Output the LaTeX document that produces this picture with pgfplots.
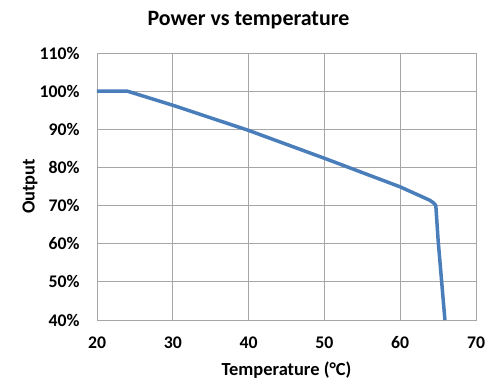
\documentclass[border=0pt]{standalone}
\usepackage{fontspec}
\setmainfont{Carlito}
\usepackage{pgfplots}
\pgfplotsset{compat=1.18}
\definecolor{linecol}{HTML}{4A7EBB}
\definecolor{gridcol}{HTML}{A6A6A6}
\begin{document}
\begin{tikzpicture}
\begin{axis}[
  name=a,
  scale only axis,
  width=379bp, height=267bp,
  xmin=20, xmax=70, ymin=40, ymax=110,
  xtick={20,30,...,70}, ytick={40,50,...,110},
  yticklabel={\pgfmathprintnumber{\tick}\%},
  /pgf/number format/assume math mode=true,
  major tick length=0pt,
  grid=major,
  major grid style={draw=gridcol, line width=0.9bp},
  axis line style={draw=gridcol, line width=0.9bp},
  tick label style={font=\fontsize{17.8}{20}\selectfont\bfseries},
  xticklabel style={yshift=-13bp},
  yticklabel style={xshift=-14bp},
  title={Power vs temperature},
  title style={font=\fontsize{22}{26}\selectfont\bfseries, at={(axis description cs:0.5,1)}, anchor=center, xshift=-38bp, yshift=27bp},
  xlabel={Temperature (°C)},
  xlabel style={font=\fontsize{18.5}{21}\selectfont\bfseries, at={(axis description cs:0.5,-0.187)}, anchor=center},
  ylabel={Output},
  ylabel style={font=\fontsize{18.5}{21}\selectfont\bfseries, at={(axis description cs:-0.177,0.5)}, anchor=center},
]
\addplot[color=linecol, line width=3.5bp, line join=round] coordinates {
(20,100) (24,100) (30,96.3) (40,89.7) (50,82.4) (60,74.9) (63.9,71.4) (64.4,70.7) (64.7,70.0) (65.0,61) (65.9,40)
};
\end{axis}
\pgfresetboundingbox
\path ([xshift=-97bp,yshift=-67bp]a.south west) rectangle ([xshift=24bp,yshift=53bp]a.north east);
\end{tikzpicture}
\end{document}
